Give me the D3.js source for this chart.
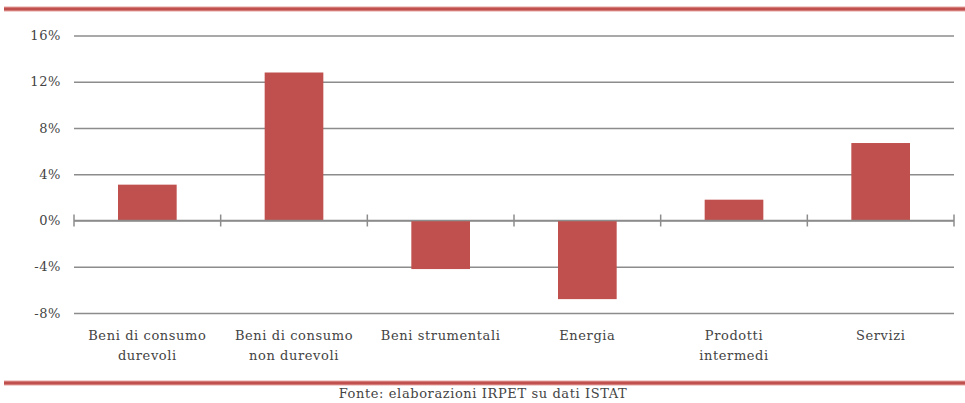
<!DOCTYPE html>
<html>
<head>
<meta charset="utf-8">
<script src="https://cdn.jsdelivr.net/npm/d3@7"></script>
<style>
  html, body { margin: 0; padding: 0; background: #fff; }
  svg { display: block; }
  svg text { font-family: "DejaVu Serif", "Liberation Serif", serif !important; fill: #444; letter-spacing: 0.6px; }
</style>
</head>
<body>
<svg id="chart" width="965" height="403"></svg>
<script>
const categories = [
  ["Beni di consumo", "durevoli"],
  ["Beni di consumo", "non durevoli"],
  ["Beni strumentali"],
  ["Energia"],
  ["Prodotti", "intermedi"],
  ["Servizi"]
];
const values = [3.1, 12.8, -4.2, -6.8, 1.8, 6.7];
const yTicks = [-8, -4, 0, 4, 8, 12, 16];
const sourceText = "Fonte: elaborazioni IRPET su dati ISTAT";

(function () {
const svg = d3.select("#chart");
const W = 965, H = 403;
const mLeft = 74, mRight = 954, mTop = 35.5, mBottom = 313;

const x = d3.scaleBand()
  .domain(d3.range(categories.length))
  .range([mLeft, mRight])
  .paddingInner(0.6)
  .paddingOuter(0.3);

const y = d3.scaleLinear().domain([-8, 16]).range([mBottom, mTop]);

const red = "#c0504d";
const grid = "#8c8c8c";

// top and bottom red rules
[9, 383].forEach(yy => {
  svg.append("line").attr("x1", 4).attr("x2", W).attr("y1", yy).attr("y2", yy)
    .attr("stroke", "#e6a5a3").attr("stroke-width", 5);
  svg.append("line").attr("x1", 4).attr("x2", W).attr("y1", yy).attr("y2", yy)
    .attr("stroke", red).attr("stroke-width", 3);
});

// gridlines via axis
const yAxis = d3.axisLeft(y).tickValues(yTicks)
  .tickSize(-(mRight - mLeft)).tickFormat(d => d + "%").tickPadding(13);
const gy = svg.append("g").attr("transform", `translate(${mLeft},0)`).call(yAxis);
gy.select(".domain").remove();
gy.selectAll(".tick line").attr("stroke", grid).attr("stroke-width", 1.5);
gy.selectAll(".tick text").attr("font-size", 13);

// bars
svg.append("g").selectAll("rect").data(values).join("rect")
  .attr("x", (d, i) => x(i))
  .attr("width", x.bandwidth())
  .attr("y", d => y(Math.max(0, d)))
  .attr("height", d => Math.abs(y(d) - y(0)))
  .attr("fill", red);

// zero axis with category separator ticks
svg.append("line").attr("x1", mLeft).attr("x2", mRight)
  .attr("y1", y(0)).attr("y2", y(0)).attr("stroke", grid).attr("stroke-width", 1.5);
const sepX = d3.range(categories.length + 1).map(i => mLeft + i * x.step());
svg.append("g").selectAll("line").data(sepX).join("line")
  .attr("x1", d => d).attr("x2", d => d)
  .attr("y1", y(0) - 6).attr("y2", y(0) + 6)
  .attr("stroke", grid).attr("stroke-width", 1.5);

// category labels
const lab = svg.append("g").selectAll("text").data(categories).join("text")
  .attr("text-anchor", "middle")
  .attr("font-size", 13)
  .attr("x", (d, i) => x(i) + x.bandwidth() / 2)
  .attr("y", 340);
lab.selectAll("tspan").data(d => d).join("tspan")
  .attr("x", function() { return d3.select(this.parentNode).attr("x"); })
  .attr("dy", (d, i) => i === 0 ? 0 : 20)
  .text(d => d);

// source
svg.append("text").attr("x", 483).attr("y", 398).attr("text-anchor", "middle")
  .attr("font-size", 13).text(sourceText);
})();
</script>
</body>
</html>
